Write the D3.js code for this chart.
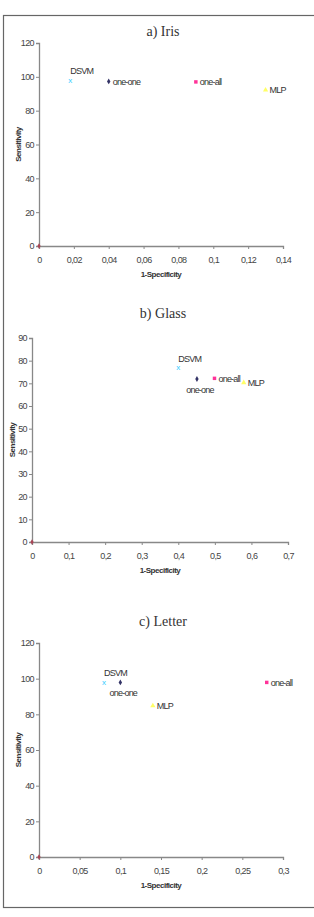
<!DOCTYPE html>
<html lang="en">
<head>
  <meta charset="UTF-8">
  <title>ROC points</title>
  <script src="https://cdn.jsdelivr.net/npm/d3@7"></script>
  <style>
    body { margin: 0; background: #fff; }
    svg text { font-family: 'Liberation Sans', Arial, sans-serif; }
  </style>
</head>
<body>
<script>
  var w = 314, h = 917

  // methods (same order in every panel)
  var methods = ['DSVM', 'one-one', 'one-all', 'MLP']
  var colors = ['#33ccff', '#333366', '#ff3399', '#ffff66']
  var shapes = ['x', 'diamond', 'square', 'triangle']

  // panel a) Iris
  var irisX = [0.018, 0.040, 0.090, 0.130]
  var irisY = [98, 97.3, 97, 92.2]
  var irisXTicks = [0, 0.02, 0.04, 0.06, 0.08, 0.1, 0.12, 0.14]
  var irisYTicks = [0, 20, 40, 60, 80, 100, 120]
  var irisLabelPos = ['above', 'right', 'right', 'right']

  // panel b) Glass
  var glassX = [0.40, 0.451, 0.499, 0.579]
  var glassY = [76.8, 71.9, 72.2, 70.3]
  var glassXTicks = [0, 0.1, 0.2, 0.3, 0.4, 0.5, 0.6, 0.7]
  var glassYTicks = [0, 10, 20, 30, 40, 50, 60, 70, 80, 90]
  var glassLabelPos = ['above', 'below', 'right', 'right']

  // panel c) Letter
  var letterX = [0.080, 0.100, 0.280, 0.140]
  var letterY = [97.9, 97.9, 97.9, 84.8]
  var letterXTicks = [0, 0.05, 0.1, 0.15, 0.2, 0.25, 0.3]
  var letterYTicks = [0, 20, 40, 60, 80, 100, 120]
  var letterLabelPos = ['above', 'below', 'right', 'right']

  var svg = d3.select('body').append('svg').attr('width', w).attr('height', h)

  // outer frame (right side runs off the page)
  svg.append('rect').attr('x', 3.5).attr('y', 15.5).attr('width', 320).attr('height', 892)
    .attr('fill', 'none').attr('stroke', '#666').attr('stroke-width', 1.2)

  var fmt = function (d) { return String(d).replace('.', ',') }

  function panel(cfg) {
    var x = d3.scaleLinear().domain([0, cfg.xTicks[cfg.xTicks.length - 1]]).range([cfg.left, cfg.right])
    var y = d3.scaleLinear().domain([0, cfg.yTicks[cfg.yTicks.length - 1]]).range([cfg.bottom, cfg.top])
    var g = svg.append('g')

    g.append('text').text(cfg.title)
      .attr('x', 163).attr('y', cfg.titleY)
      .attr('text-anchor', 'middle')
      .style('font-family', "'Liberation Serif', 'Times New Roman', serif")
      .style('font-size', '14px').attr('fill', '#333')

    var xa = g.append('g').attr('transform', 'translate(0,' + cfg.bottom + ')')
      .call(d3.axisBottom(x).tickValues(cfg.xTicks).tickFormat(fmt).tickSize(3).tickPadding(8).tickSizeOuter(3))
    var ya = g.append('g').attr('transform', 'translate(' + cfg.left + ',0)')
      .call(d3.axisLeft(y).tickValues(cfg.yTicks).tickSize(3).tickPadding(2).tickSizeOuter(3))
    ;[xa, ya].forEach(function (a) {
      a.select('.domain').attr('stroke', '#888').attr('stroke-width', 1.3)
      a.selectAll('.tick line').attr('stroke', '#888')
      a.selectAll('.tick text').attr('fill', '#444').style('font-size', '9px').style('letter-spacing', '-0.6px')
    })

    g.append('text').text('1-Specificity')
      .attr('x', (cfg.left + cfg.right) / 2).attr('y', cfg.bottom + 31)
      .attr('text-anchor', 'middle').style('font-size', '8px').style('font-weight', 'bold')
      .style('letter-spacing', '-0.5px').attr('fill', '#333')
    g.append('text').text('Sensitivity')
      .attr('transform', 'translate(' + cfg.yLabelX + ',' + (cfg.top + cfg.bottom) / 2 + ') rotate(-90)')
      .attr('text-anchor', 'middle').style('font-size', '8px').style('font-weight', 'bold')
      .style('letter-spacing', '-0.5px').attr('fill', '#333')

    // little dark red marker sitting on the origin
    g.append('path').attr('d', d3.symbol(d3.symbolDiamond, 9)())
      .attr('transform', 'translate(' + x(0) + ',' + y(0) + ')').attr('fill', '#aa4455')

    var pts = methods.map(function (m, i) { return { m: m, x: cfg.xs[i], y: cfg.ys[i], i: i } })
    var sym = { diamond: d3.symbolDiamond, square: d3.symbolSquare, triangle: d3.symbolTriangle }
    var size = { diamond: 10, square: 12, triangle: 12 }
    g.selectAll('.pt').data(pts).enter().append('g')
      .attr('transform', function (d) { return 'translate(' + x(d.x) + ',' + y(d.y) + ')' })
      .each(function (d) {
        var s = d3.select(this)
        if (shapes[d.i] == 'x') {
          s.append('text').text('x').attr('text-anchor', 'middle').attr('dy', '0.3em')
            .style('font-size', '8px').attr('fill', colors[d.i])
        } else {
          s.append('path').attr('d', d3.symbol(sym[shapes[d.i]], size[shapes[d.i]])()).attr('fill', colors[d.i])
        }
        var pos = cfg.labelPos[d.i]
        var t = s.append('text').text(d.m).style('font-size', '9px').style('letter-spacing', '-0.8px')
          .attr('fill', '#333')
        if (pos == 'right') t.attr('x', 4).attr('dy', '0.35em')
        else if (pos == 'above') t.attr('x', 0).attr('y', -6)
        else t.attr('text-anchor', 'middle').attr('x', 3).attr('y', 14)
      })
  }

  panel({ title: 'a) Iris', titleY: 36, left: 39, right: 283, top: 43, bottom: 246, yLabelX: 21,
    xs: irisX, ys: irisY, xTicks: irisXTicks, yTicks: irisYTicks, labelPos: irisLabelPos })
  panel({ title: 'b) Glass', titleY: 318, left: 32, right: 288, top: 338, bottom: 542, yLabelX: 15,
    xs: glassX, ys: glassY, xTicks: glassXTicks, yTicks: glassYTicks, labelPos: glassLabelPos })
  panel({ title: 'c) Letter', titleY: 626, left: 39, right: 283, top: 643, bottom: 857, yLabelX: 21,
    xs: letterX, ys: letterY, xTicks: letterXTicks, yTicks: letterYTicks, labelPos: letterLabelPos })
</script>
</body>
</html>
